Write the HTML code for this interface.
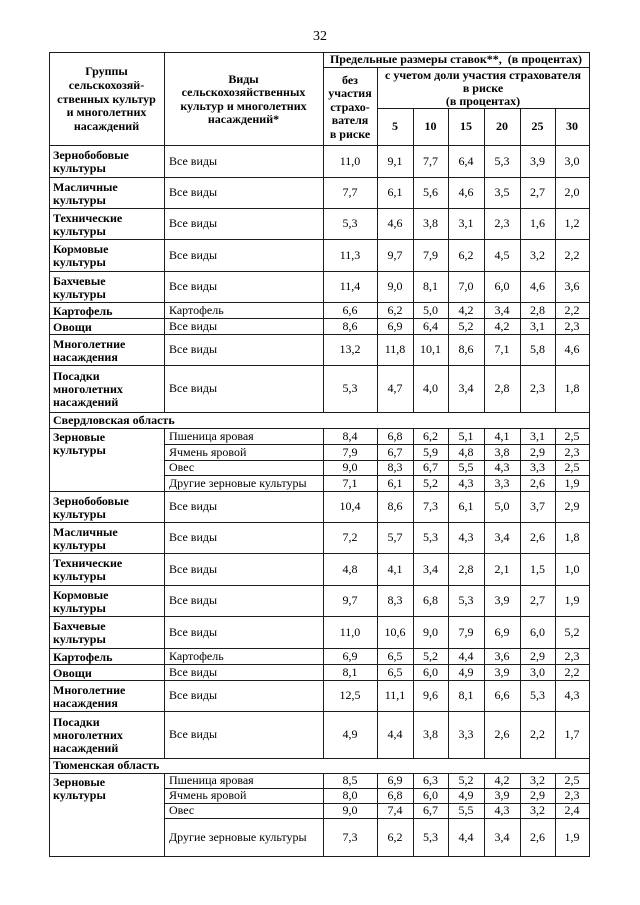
<!DOCTYPE html>
<html><head><meta charset="utf-8">
<style>
body{margin:0;background:#fff}
#p{position:relative;width:640px;height:905px;overflow:hidden;background:#fff;font-family:"Liberation Serif","DejaVu Serif",serif;font-size:12px;color:#000}
.h{position:absolute;height:1px;background:#1c1c1c}
.v{position:absolute;width:1px;background:#1c1c1c}
.r{position:absolute;left:0;width:640px}
.c{position:absolute;top:0;bottom:0;display:flex;align-items:center;line-height:13px;white-space:nowrap;box-sizing:border-box}
.g{left:49px;width:115px;padding-left:4px;padding-top:2px;font-weight:bold}
.t{align-items:flex-start;padding-top:3px}
.k{left:164px;width:159px;padding-left:5px}
.n{justify-content:center;text-align:center}
.a{left:323px;width:54px}.b{left:377px;width:36px}.d{left:413px;width:35px}.e{left:448px;width:36px}
.f{left:484px;width:36px}.i{left:520px;width:35px}.j{left:555px;width:34px}
.bd{font-weight:bold}
.s{left:49px;width:540px;padding-left:4px;font-weight:bold}
</style></head><body><div id="p">

<div style="position:absolute;left:300px;top:29px;width:40px;text-align:center;font-size:14px;line-height:16px">32</div>

<!-- horizontal lines -->
<div class="h" style="top:52px;left:49px;width:541px"></div>
<div class="h" style="top:67px;left:323px;width:267px"></div>
<div class="h" style="top:108px;left:377px;width:213px"></div>
<div class="h" style="top:145px;left:49px;width:541px"></div>
<div class="h" style="top:177px;left:49px;width:541px"></div>
<div class="h" style="top:208px;left:49px;width:541px"></div>
<div class="h" style="top:239px;left:49px;width:541px"></div>
<div class="h" style="top:271px;left:49px;width:541px"></div>
<div class="h" style="top:302px;left:49px;width:541px"></div>
<div class="h" style="top:318px;left:49px;width:541px"></div>
<div class="h" style="top:334px;left:49px;width:541px"></div>
<div class="h" style="top:365px;left:49px;width:541px"></div>
<div class="h" style="top:412px;left:49px;width:541px"></div>
<div class="h" style="top:428px;left:49px;width:541px"></div>
<div class="h" style="top:444px;left:164px;width:426px"></div>
<div class="h" style="top:460px;left:164px;width:426px"></div>
<div class="h" style="top:475px;left:164px;width:426px"></div>
<div class="h" style="top:491px;left:49px;width:541px"></div>
<div class="h" style="top:522px;left:49px;width:541px"></div>
<div class="h" style="top:553px;left:49px;width:541px"></div>
<div class="h" style="top:585px;left:49px;width:541px"></div>
<div class="h" style="top:616px;left:49px;width:541px"></div>
<div class="h" style="top:648px;left:49px;width:541px"></div>
<div class="h" style="top:664px;left:49px;width:541px"></div>
<div class="h" style="top:680px;left:49px;width:541px"></div>
<div class="h" style="top:711px;left:49px;width:541px"></div>
<div class="h" style="top:758px;left:49px;width:541px"></div>
<div class="h" style="top:773px;left:49px;width:541px"></div>
<div class="h" style="top:788px;left:164px;width:426px"></div>
<div class="h" style="top:803px;left:164px;width:426px"></div>
<div class="h" style="top:818px;left:164px;width:426px"></div>
<div class="h" style="top:856px;left:49px;width:541px"></div>

<!-- vertical lines -->
<div class="v" style="left:49px;top:52px;height:805px"></div>
<div class="v" style="left:589px;top:52px;height:805px"></div>

<div class="v" style="left:164px;top:52px;height:360px"></div>
<div class="v" style="left:164px;top:428px;height:330px"></div>
<div class="v" style="left:164px;top:773px;height:83px"></div>
<div class="v" style="left:323px;top:52px;height:360px"></div>
<div class="v" style="left:323px;top:428px;height:330px"></div>
<div class="v" style="left:323px;top:773px;height:83px"></div>
<div class="v" style="left:377px;top:67px;height:345px"></div>
<div class="v" style="left:377px;top:428px;height:330px"></div>
<div class="v" style="left:377px;top:773px;height:83px"></div>

<div class="v" style="left:413px;top:108px;height:304px"></div>
<div class="v" style="left:413px;top:428px;height:330px"></div>
<div class="v" style="left:413px;top:773px;height:83px"></div>
<div class="v" style="left:448px;top:108px;height:304px"></div>
<div class="v" style="left:448px;top:428px;height:330px"></div>
<div class="v" style="left:448px;top:773px;height:83px"></div>
<div class="v" style="left:484px;top:108px;height:304px"></div>
<div class="v" style="left:484px;top:428px;height:330px"></div>
<div class="v" style="left:484px;top:773px;height:83px"></div>
<div class="v" style="left:520px;top:108px;height:304px"></div>
<div class="v" style="left:520px;top:428px;height:330px"></div>
<div class="v" style="left:520px;top:773px;height:83px"></div>
<div class="v" style="left:555px;top:108px;height:304px"></div>
<div class="v" style="left:555px;top:428px;height:330px"></div>
<div class="v" style="left:555px;top:773px;height:83px"></div>

<!-- header -->
<div class="r" style="top:52px;height:93px">
 <div class="c n bd" style="left:49px;width:115px;line-height:13.7px;padding-top:2px"><span>Группы<br>сельскохозяй-<br>ственных культур<br>и многолетних<br>насаждений</span></div>
 <div class="c n bd" style="left:164px;width:159px;line-height:13.3px;padding-top:2px"><span>Виды<br>сельскохозяйственных<br>культур и многолетних<br>насаждений*</span></div>
</div>
<div class="r" style="top:52px;height:15px">
 <div class="c n bd" style="left:323px;width:266px">Предельные размеры ставок**,&nbsp; (в процентах)</div>
</div>
<div class="r" style="top:67px;height:78px">
 <div class="c n bd" style="left:323px;width:54px;line-height:13.5px;padding-top:3px"><span>без<br>участия<br>страхо-<br>вателя<br>в риске</span></div>
</div>
<div class="r" style="top:67px;height:41px">
 <div class="c n bd" style="left:377px;width:212px;line-height:13px;padding-top:2px"><span>с учетом доли участия страхователя<br>в риске<br>(в процентах)</span></div>
</div>
<div class="r bd" style="top:108px;height:37px">
 <div class="c n b">5</div><div class="c n d">10</div><div class="c n e">15</div><div class="c n f">20</div><div class="c n i">25</div><div class="c n j">30</div>
</div>

<!-- section 1 -->
<div class="r" style="top:145px;height:32px"><div class="c g"><span>Зернобобовые<br>культуры</span></div><div class="c k">Все виды</div>
<div class="c n a">11,0</div><div class="c n b">9,1</div><div class="c n d">7,7</div><div class="c n e">6,4</div><div class="c n f">5,3</div><div class="c n i">3,9</div><div class="c n j">3,0</div></div>
<div class="r" style="top:177px;height:31px"><div class="c g"><span>Масличные<br>культуры</span></div><div class="c k">Все виды</div>
<div class="c n a">7,7</div><div class="c n b">6,1</div><div class="c n d">5,6</div><div class="c n e">4,6</div><div class="c n f">3,5</div><div class="c n i">2,7</div><div class="c n j">2,0</div></div>
<div class="r" style="top:208px;height:31px"><div class="c g"><span>Технические<br>культуры</span></div><div class="c k">Все виды</div>
<div class="c n a">5,3</div><div class="c n b">4,6</div><div class="c n d">3,8</div><div class="c n e">3,1</div><div class="c n f">2,3</div><div class="c n i">1,6</div><div class="c n j">1,2</div></div>
<div class="r" style="top:239px;height:32px"><div class="c g"><span>Кормовые<br>культуры</span></div><div class="c k">Все виды</div>
<div class="c n a">11,3</div><div class="c n b">9,7</div><div class="c n d">7,9</div><div class="c n e">6,2</div><div class="c n f">4,5</div><div class="c n i">3,2</div><div class="c n j">2,2</div></div>
<div class="r" style="top:271px;height:31px"><div class="c g"><span>Бахчевые<br>культуры</span></div><div class="c k">Все виды</div>
<div class="c n a">11,4</div><div class="c n b">9,0</div><div class="c n d">8,1</div><div class="c n e">7,0</div><div class="c n f">6,0</div><div class="c n i">4,6</div><div class="c n j">3,6</div></div>
<div class="r" style="top:302px;height:16px"><div class="c g">Картофель</div><div class="c k">Картофель</div>
<div class="c n a">6,6</div><div class="c n b">6,2</div><div class="c n d">5,0</div><div class="c n e">4,2</div><div class="c n f">3,4</div><div class="c n i">2,8</div><div class="c n j">2,2</div></div>
<div class="r" style="top:318px;height:16px"><div class="c g">Овощи</div><div class="c k">Все виды</div>
<div class="c n a">8,6</div><div class="c n b">6,9</div><div class="c n d">6,4</div><div class="c n e">5,2</div><div class="c n f">4,2</div><div class="c n i">3,1</div><div class="c n j">2,3</div></div>
<div class="r" style="top:334px;height:31px"><div class="c g"><span>Многолетние<br>насаждения</span></div><div class="c k">Все виды</div>
<div class="c n a">13,2</div><div class="c n b">11,8</div><div class="c n d">10,1</div><div class="c n e">8,6</div><div class="c n f">7,1</div><div class="c n i">5,8</div><div class="c n j">4,6</div></div>
<div class="r" style="top:365px;height:47px"><div class="c g"><span>Посадки<br>многолетних<br>насаждений</span></div><div class="c k">Все виды</div>
<div class="c n a">5,3</div><div class="c n b">4,7</div><div class="c n d">4,0</div><div class="c n e">3,4</div><div class="c n f">2,8</div><div class="c n i">2,3</div><div class="c n j">1,8</div></div>

<!-- section 2 -->
<div class="r" style="top:412px;height:16px"><div class="c s">Свердловская область</div></div>
<div class="r" style="top:428px;height:63px"><div class="c g t"><span>Зерновые<br>культуры</span></div></div>
<div class="r" style="top:428px;height:16px"><div class="c k">Пшеница яровая</div>
<div class="c n a">8,4</div><div class="c n b">6,8</div><div class="c n d">6,2</div><div class="c n e">5,1</div><div class="c n f">4,1</div><div class="c n i">3,1</div><div class="c n j">2,5</div></div>
<div class="r" style="top:444px;height:16px"><div class="c k">Ячмень яровой</div>
<div class="c n a">7,9</div><div class="c n b">6,7</div><div class="c n d">5,9</div><div class="c n e">4,8</div><div class="c n f">3,8</div><div class="c n i">2,9</div><div class="c n j">2,3</div></div>
<div class="r" style="top:460px;height:15px"><div class="c k">Овес</div>
<div class="c n a">9,0</div><div class="c n b">8,3</div><div class="c n d">6,7</div><div class="c n e">5,5</div><div class="c n f">4,3</div><div class="c n i">3,3</div><div class="c n j">2,5</div></div>
<div class="r" style="top:475px;height:16px"><div class="c k">Другие зерновые культуры</div>
<div class="c n a">7,1</div><div class="c n b">6,1</div><div class="c n d">5,2</div><div class="c n e">4,3</div><div class="c n f">3,3</div><div class="c n i">2,6</div><div class="c n j">1,9</div></div>
<div class="r" style="top:491px;height:31px"><div class="c g"><span>Зернобобовые<br>культуры</span></div><div class="c k">Все виды</div>
<div class="c n a">10,4</div><div class="c n b">8,6</div><div class="c n d">7,3</div><div class="c n e">6,1</div><div class="c n f">5,0</div><div class="c n i">3,7</div><div class="c n j">2,9</div></div>
<div class="r" style="top:522px;height:31px"><div class="c g"><span>Масличные<br>культуры</span></div><div class="c k">Все виды</div>
<div class="c n a">7,2</div><div class="c n b">5,7</div><div class="c n d">5,3</div><div class="c n e">4,3</div><div class="c n f">3,4</div><div class="c n i">2,6</div><div class="c n j">1,8</div></div>
<div class="r" style="top:553px;height:32px"><div class="c g"><span>Технические<br>культуры</span></div><div class="c k">Все виды</div>
<div class="c n a">4,8</div><div class="c n b">4,1</div><div class="c n d">3,4</div><div class="c n e">2,8</div><div class="c n f">2,1</div><div class="c n i">1,5</div><div class="c n j">1,0</div></div>
<div class="r" style="top:585px;height:31px"><div class="c g"><span>Кормовые<br>культуры</span></div><div class="c k">Все виды</div>
<div class="c n a">9,7</div><div class="c n b">8,3</div><div class="c n d">6,8</div><div class="c n e">5,3</div><div class="c n f">3,9</div><div class="c n i">2,7</div><div class="c n j">1,9</div></div>
<div class="r" style="top:616px;height:32px"><div class="c g"><span>Бахчевые<br>культуры</span></div><div class="c k">Все виды</div>
<div class="c n a">11,0</div><div class="c n b">10,6</div><div class="c n d">9,0</div><div class="c n e">7,9</div><div class="c n f">6,9</div><div class="c n i">6,0</div><div class="c n j">5,2</div></div>
<div class="r" style="top:648px;height:16px"><div class="c g">Картофель</div><div class="c k">Картофель</div>
<div class="c n a">6,9</div><div class="c n b">6,5</div><div class="c n d">5,2</div><div class="c n e">4,4</div><div class="c n f">3,6</div><div class="c n i">2,9</div><div class="c n j">2,3</div></div>
<div class="r" style="top:664px;height:16px"><div class="c g">Овощи</div><div class="c k">Все виды</div>
<div class="c n a">8,1</div><div class="c n b">6,5</div><div class="c n d">6,0</div><div class="c n e">4,9</div><div class="c n f">3,9</div><div class="c n i">3,0</div><div class="c n j">2,2</div></div>
<div class="r" style="top:680px;height:31px"><div class="c g"><span>Многолетние<br>насаждения</span></div><div class="c k">Все виды</div>
<div class="c n a">12,5</div><div class="c n b">11,1</div><div class="c n d">9,6</div><div class="c n e">8,1</div><div class="c n f">6,6</div><div class="c n i">5,3</div><div class="c n j">4,3</div></div>
<div class="r" style="top:711px;height:47px"><div class="c g"><span>Посадки<br>многолетних<br>насаждений</span></div><div class="c k">Все виды</div>
<div class="c n a">4,9</div><div class="c n b">4,4</div><div class="c n d">3,8</div><div class="c n e">3,3</div><div class="c n f">2,6</div><div class="c n i">2,2</div><div class="c n j">1,7</div></div>

<!-- section 3 -->
<div class="r" style="top:758px;height:15px"><div class="c s">Тюменская область</div></div>
<div class="r" style="top:773px;height:83px"><div class="c g t"><span>Зерновые<br>культуры</span></div></div>
<div class="r" style="top:773px;height:15px"><div class="c k">Пшеница яровая</div>
<div class="c n a">8,5</div><div class="c n b">6,9</div><div class="c n d">6,3</div><div class="c n e">5,2</div><div class="c n f">4,2</div><div class="c n i">3,2</div><div class="c n j">2,5</div></div>
<div class="r" style="top:788px;height:15px"><div class="c k">Ячмень яровой</div>
<div class="c n a">8,0</div><div class="c n b">6,8</div><div class="c n d">6,0</div><div class="c n e">4,9</div><div class="c n f">3,9</div><div class="c n i">2,9</div><div class="c n j">2,3</div></div>
<div class="r" style="top:803px;height:15px"><div class="c k">Овес</div>
<div class="c n a">9,0</div><div class="c n b">7,4</div><div class="c n d">6,7</div><div class="c n e">5,5</div><div class="c n f">4,3</div><div class="c n i">3,2</div><div class="c n j">2,4</div></div>
<div class="r" style="top:818px;height:38px"><div class="c k">Другие зерновые культуры</div>
<div class="c n a">7,3</div><div class="c n b">6,2</div><div class="c n d">5,3</div><div class="c n e">4,4</div><div class="c n f">3,4</div><div class="c n i">2,6</div><div class="c n j">1,9</div></div>

</div></body></html>
